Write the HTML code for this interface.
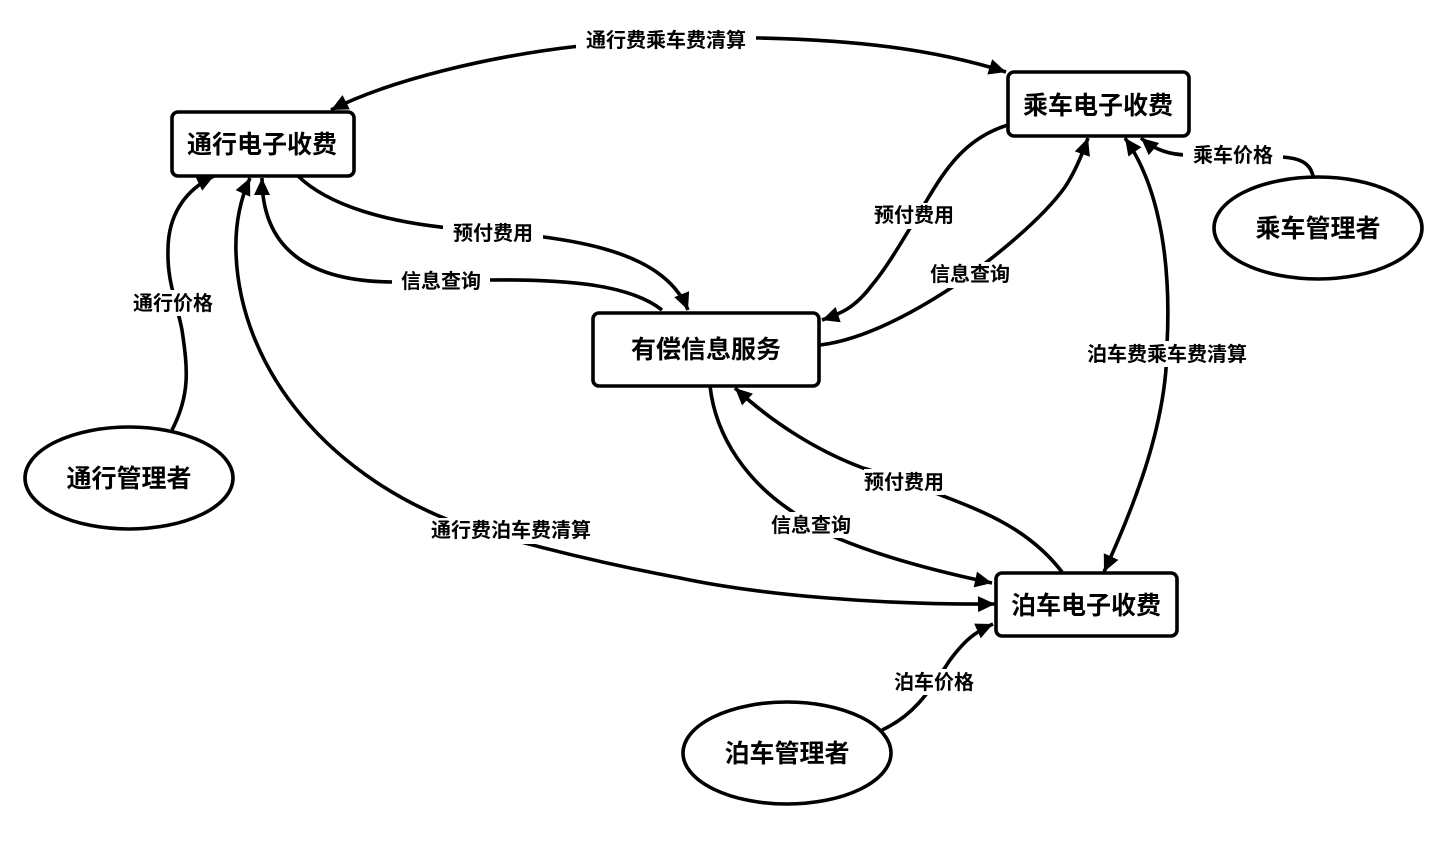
<!DOCTYPE html>
<html><head><meta charset="utf-8"><style>
html,body{margin:0;padding:0;background:#fff}
svg{display:block}
text{font-family:"Liberation Sans","Noto Sans CJK SC",sans-serif;text-anchor:middle;fill:#000}
.n{font-size:25px;font-weight:700}
.l{font-size:20px;font-weight:700}
.e{fill:none;stroke:#000;stroke-width:3.6}
.s{fill:#fff;stroke:#000;stroke-width:3.6}
</style></head><body>
<svg width="1452" height="843" viewBox="0 0 1452 843" xmlns="http://www.w3.org/2000/svg">
<defs>
<marker id="a" markerUnits="userSpaceOnUse" markerWidth="20" markerHeight="18" refX="17" refY="8" orient="auto-start-reverse" overflow="visible"><path d="M0,0L17,8L0,16z" fill="#000"/></marker>
</defs>
<g class="edges">
<path class="e" marker-start="url(#a)" marker-end="url(#a)" d="M331,110C390,80 490,56 580,46C640,41 700,37 760,38C850,40 930,48 1006,72"/>
<path class="e" marker-end="url(#a)" d="M172,430C190,395 188,370 182,330C176,300 167,280 168,250C168,215 185,190 214,176"/>
<path class="e" marker-start="url(#a)" marker-end="url(#a)" d="M995,604C880,605 760,595 680,578C610,565 540,548 470,528C330,480 240,370 236,253C235,225 240,200 250,178"/>
<path class="e" marker-end="url(#a)" d="M298,176C330,207 390,222 450,228C540,236 660,240 688,310"/>
<path class="e" marker-end="url(#a)" d="M662,310C630,285 570,279 487,280C440,281 430,282 395,282C310,282 262,250 262,178"/>
<path class="e" marker-end="url(#a)" d="M1008,125C965,138 945,170 927,200C900,245 885,270 872,285C855,308 840,314 822,320"/>
<path class="e" marker-end="url(#a)" d="M820,345C860,340 905,318 951,288C985,265 1040,222 1065,187C1075,172 1082,155 1088,138"/>
<path class="e" marker-start="url(#a)" marker-end="url(#a)" d="M1125,138C1155,180 1172,250 1167,345C1167,420 1137,500 1104,572"/>
<path class="e" marker-end="url(#a)" d="M1313,176C1310,162 1298,158 1282,157L1189,155C1170,155 1155,150 1141,138"/>
<path class="e" marker-end="url(#a)" d="M1062,572C1030,530 985,512 943,496C910,482 890,476 863,468C820,452 775,425 735,388"/>
<path class="e" marker-end="url(#a)" d="M710,386C716,440 750,483 790,510C810,525 825,533 837,538C880,556 930,570 992,583"/>
<path class="e" marker-end="url(#a)" d="M882,730C915,715 930,690 950,660C965,640 975,632 993,624"/>
</g>
<g class="nodes">
<rect class="s" x="172" y="112" width="182" height="64" rx="6"/>
<rect class="s" x="1008" y="72" width="181" height="64" rx="6"/>
<rect class="s" x="593" y="313" width="226" height="73" rx="6"/>
<rect class="s" x="996" y="573" width="181" height="63" rx="6"/>
<ellipse class="s" cx="129" cy="478" rx="104" ry="51"/>
<ellipse class="s" cx="1318" cy="228" rx="104" ry="51"/>
<ellipse class="s" cx="787" cy="753" rx="104" ry="51"/>
</g>
<g fill="#fff">
<rect x="576" y="28" width="180" height="26"/>
<rect x="128" y="290" width="90" height="26"/>
<rect x="443" y="220" width="100" height="26"/>
<rect x="392" y="268" width="98" height="26"/>
<rect x="873" y="203" width="82" height="26"/>
<rect x="930" y="262" width="80" height="26"/>
<rect x="1087" y="341" width="160" height="26"/>
<rect x="1183" y="143" width="100" height="26"/>
<rect x="864" y="469" width="80" height="26"/>
<rect x="771" y="512" width="80" height="26"/>
<rect x="431" y="518" width="160" height="26"/>
<rect x="894" y="669" width="80" height="26"/>
</g>
<g>
<text class="n" x="262" y="153">通行电子收费</text>
<text class="n" x="1098" y="114">乘车电子收费</text>
<text class="n" x="706" y="358">有偿信息服务</text>
<text class="n" x="1086" y="614">泊车电子收费</text>
<text class="n" x="129" y="487">通行管理者</text>
<text class="n" x="1318" y="237">乘车管理者</text>
<text class="n" x="787" y="762">泊车管理者</text>
<text class="l" x="666" y="47">通行费乘车费清算</text>
<text class="l" x="173" y="310">通行价格</text>
<text class="l" x="493" y="240">预付费用</text>
<text class="l" x="441" y="288">信息查询</text>
<text class="l" x="914" y="222">预付费用</text>
<text class="l" x="970" y="281">信息查询</text>
<text class="l" x="1167" y="361">泊车费乘车费清算</text>
<text class="l" x="1233" y="162">乘车价格</text>
<text class="l" x="904" y="489">预付费用</text>
<text class="l" x="811" y="532">信息查询</text>
<text class="l" x="511" y="537">通行费泊车费清算</text>
<text class="l" x="934" y="689">泊车价格</text>
</g>
</svg>
</body></html>
